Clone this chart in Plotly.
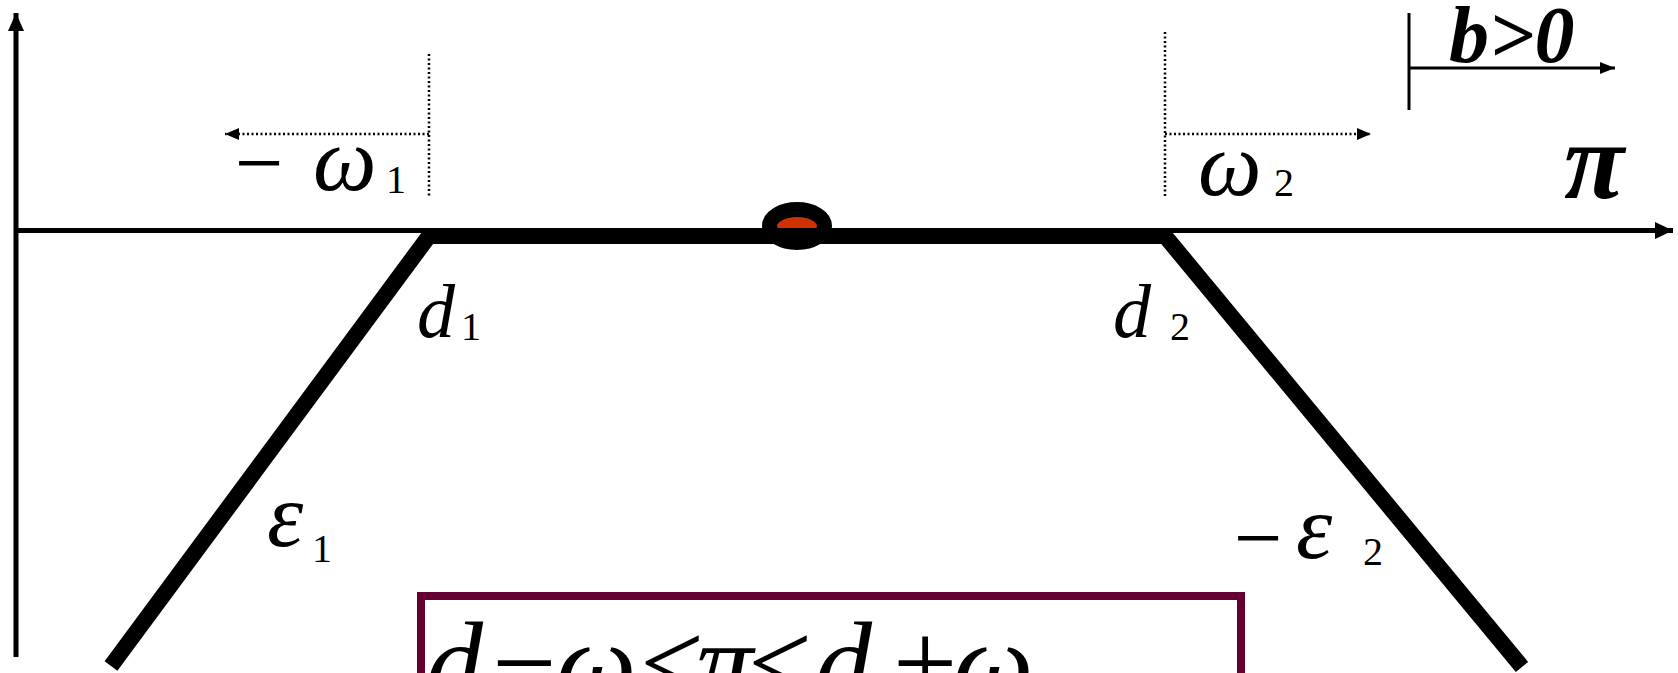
import plotly.graph_objects as go

W, H = 1678, 673

# ---- diagram values (drawing units, y grows downward) ----
# kinked schedule: flat between the kinks d1 and d2, slope ε1 on the left, −ε2 on the right
kink_x = [111, 429, 1165, 1522]
kink_y = [666, 236, 236, 667]

# π axis (horizontal) and vertical axis
pi_axis_x = [16, 1673]
pi_axis_y = [230.5, 230.5]
v_axis_x = [16, 16]
v_axis_y = [657, 13]

# dotted guides at the kinks and the band arrows (−ω1 from d1, ω2 from d2)
guide_x = [429, 1165]
guide_top = [54, 32]
guide_bottom = [198, 198]
band_tip_x = [225, 1371]
band_y = 134

# equilibrium point on the flat segment
eq_x = 797
eq_y = 226

# b>0 direction marker
b_stem_x = 1409
b_stem_y = [13, 110]
b_arrow_x = [1409, 1615]
b_arrow_y = 68

# condition box
box_x = [417, 1245]
box_top = 592

# ---- styles ----
BLACK = "black"
SERIF = "Liberation Serif"
MAROON = "#660033"
DOT_RED = "#CC3300"


def head(tip_x, tip_y, dx, dy, length, half):
    bx, by = tip_x - dx * length, tip_y - dy * length
    px, py = -dy, dx
    return (f"M{tip_x},{tip_y} L{bx + px * half},{by + py * half} "
            f"L{bx - px * half},{by - py * half} Z")


def _ann(text, xc, yc, size, italic=False, bold=False):
    t = text
    if bold:
        t = f"<b>{t}</b>"
    if italic:
        t = f"<i>{t}</i>"
    return dict(x=xc, y=yc, xref="x", yref="y", text=t,
                showarrow=False, xanchor="center", yanchor="middle",
                borderpad=0, borderwidth=0,
                font=dict(family=SERIF, size=size, color=BLACK))


def label(text, xc, baseline, size, italic=False, bold=False):
    """Glyph placed by its baseline."""
    return _ann(text, xc, baseline - 0.3375 * size, size, italic, bold)


def sign(text, xc, yc, size):
    """Operator sign placed by its visual centre."""
    return _ann(text, xc, yc, size)


fig = go.Figure()

# axes
fig.add_trace(go.Scatter(x=pi_axis_x, y=pi_axis_y, mode="lines",
                         line=dict(color=BLACK, width=5)))
fig.add_trace(go.Scatter(x=v_axis_x, y=v_axis_y, mode="lines",
                         line=dict(color=BLACK, width=5)))

# dotted guides and band arrows
for gx, gt, gb, tip in zip(guide_x, guide_top, guide_bottom, band_tip_x):
    fig.add_trace(go.Scatter(x=[gx, gx], y=[gt, gb], mode="lines",
                             line=dict(color=BLACK, width=2.5, dash="2px,2.5px")))
    fig.add_trace(go.Scatter(x=[gx, tip], y=[band_y, band_y], mode="lines",
                             line=dict(color=BLACK, width=2.5, dash="2px,2.5px")))

# b>0 marker
fig.add_trace(go.Scatter(x=[b_stem_x, b_stem_x], y=b_stem_y, mode="lines",
                         line=dict(color=BLACK, width=3)))
fig.add_trace(go.Scatter(x=b_arrow_x, y=[b_arrow_y, b_arrow_y], mode="lines",
                         line=dict(color=BLACK, width=3)))

# kinked schedule
fig.add_trace(go.Scatter(x=kink_x, y=kink_y, mode="lines",
                         line=dict(color=BLACK, width=16)))

shapes = []
# equilibrium point (below the thick line)
shapes.append(dict(type="circle", xref="x", yref="y", layer="below",
                   x0=eq_x - 27.5, x1=eq_x + 27.5, y0=eq_y - 16.5, y1=eq_y + 16.5,
                   fillcolor=DOT_RED, line=dict(color=BLACK, width=15)))

# arrowheads
heads = [
    head(pi_axis_x[1], pi_axis_y[1], 1, 0, 18, 8.5),
    head(v_axis_x[1], v_axis_y[1], 0, -1, 18, 8),
    head(band_tip_x[0], band_y, -1, 0, 14, 6),
    head(band_tip_x[1], band_y, 1, 0, 14, 6),
    head(b_arrow_x[1], b_arrow_y, 1, 0, 15, 6),
]
for p in heads:
    shapes.append(dict(type="path", xref="x", yref="y", path=p,
                       fillcolor=BLACK, line=dict(width=0)))

# condition box
shapes.append(dict(type="rect", xref="x", yref="y",
                   x0=box_x[0] + 4, x1=box_x[1] - 4, y0=box_top + 4, y1=H + 40,
                   fillcolor="rgba(0,0,0,0)", line=dict(color=MAROON, width=8)))

BOX_BASE = 701
BOX_SIZE = 114

annotations = [
    # −ω1
    sign("−", 259, 163, 86),
    label("ω", 345, 190, 90, italic=True),
    label("1", 396, 193, 40),
    # ω2
    label("ω", 1230, 195, 90, italic=True),
    label("2", 1284, 196, 40),
    # axis name and shift direction
    label("π", 1595, 198, 110, italic=True, bold=True),
    label("b>0", 1512, 62, 80, italic=True, bold=True),
    # kinks
    label("d", 436, 337, 76, italic=True),
    label("1", 471, 340, 40),
    label("d", 1132, 337, 76, italic=True),
    label("2", 1180, 340, 40),
    # slopes
    label("ε", 285, 546, 92, italic=True),
    label("1", 322, 562, 40),
    sign("−", 1258, 538, 86),
    label("ε", 1314, 558, 92, italic=True),
    label("2", 1373, 565, 40),
    # d1 − ω1 < π < d2 + ω2
    label("d", 455, BOX_BASE, BOX_SIZE, italic=True),
    label("−", 524, BOX_BASE, BOX_SIZE),
    label("ω", 596, BOX_BASE, BOX_SIZE, italic=True),
    label("<", 672, BOX_BASE, BOX_SIZE),
    label("π", 726, BOX_BASE, BOX_SIZE, italic=True),
    label("<", 780, BOX_BASE, BOX_SIZE),
    label("d", 844, BOX_BASE, BOX_SIZE, italic=True),
    label("+", 925, BOX_BASE, BOX_SIZE),
    label("ω", 993, BOX_BASE, BOX_SIZE, italic=True),
]

fig.update_layout(
    width=W, height=H,
    margin=dict(l=0, r=0, t=0, b=0),
    paper_bgcolor="white", plot_bgcolor="white",
    showlegend=False, hovermode=False,
    xaxis=dict(range=[0, W], visible=False, fixedrange=True),
    yaxis=dict(range=[H, 0], visible=False, fixedrange=True),
    shapes=shapes, annotations=annotations,
)

fig.write_html("out.html", config={"displayModeBar": False, "staticPlot": True})
